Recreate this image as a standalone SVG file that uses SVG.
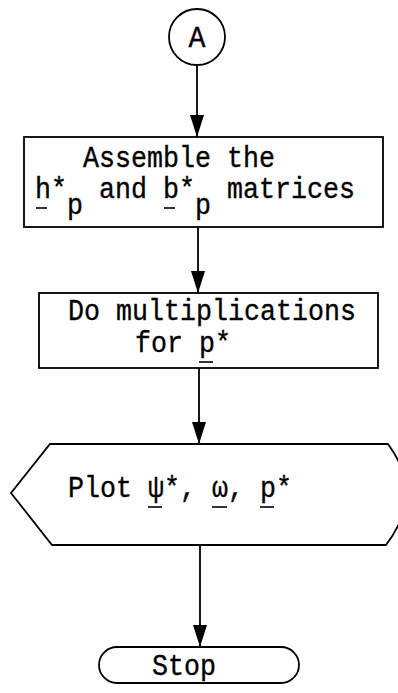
<svg xmlns="http://www.w3.org/2000/svg" width="398" height="693" viewBox="0 0 398 693">
<style>
.shape{fill:#fff;stroke:#000;stroke-width:1.8}
.edge{fill:none;stroke:#000;stroke-width:1.8}
.t{font-family:"Liberation Mono","Courier New",monospace;font-size:30px;fill:#000;stroke:#000;stroke-width:0.35}
.ul{stroke:#000;stroke-width:1.6}
</style>
<defs>
<marker id="arr" markerUnits="userSpaceOnUse" markerWidth="24" markerHeight="16" refX="22" refY="0" orient="auto" viewBox="-1 -8 24 16">
<path d="M0,-7 L22,0 L0,7 Z" fill="#000"/>
</marker>
</defs>
<g id="connectors">
<path class="edge" d="M197,65 V137" marker-end="url(#arr)"/>
<path class="edge" d="M198,227 V293" marker-end="url(#arr)"/>
<path class="edge" d="M199,368 V444" marker-end="url(#arr)"/>
<path class="edge" d="M200,545 V647" marker-end="url(#arr)"/>
</g>
<g id="nodeA">
<circle class="shape" cx="197" cy="37" r="28"/>
<text class="t" x="197" y="47" text-anchor="middle" textLength="17" lengthAdjust="spacingAndGlyphs">A</text>
</g>
<g id="assemble">
<rect class="shape" x="24" y="137" width="359" height="90"/>
<text class="t" x="83" y="167" textLength="192" lengthAdjust="spacingAndGlyphs">Assemble the</text>
<text class="t" x="35" y="198" textLength="32" lengthAdjust="spacingAndGlyphs">h*</text>
<text class="t" x="67" y="214" textLength="16" lengthAdjust="spacingAndGlyphs">p</text>
<text class="t" x="99" y="198" textLength="48" lengthAdjust="spacingAndGlyphs">and</text>
<text class="t" x="163" y="198" textLength="32" lengthAdjust="spacingAndGlyphs">b*</text>
<text class="t" x="195" y="214" textLength="16" lengthAdjust="spacingAndGlyphs">p</text>
<text class="t" x="227" y="198" textLength="128" lengthAdjust="spacingAndGlyphs">matrices</text>
<line class="ul" x1="36" y1="208" x2="47" y2="208"/>
<line class="ul" x1="164" y1="208" x2="175" y2="208"/>
</g>
<g id="multiply">
<rect class="shape" x="39" y="293" width="339" height="75"/>
<text class="t" x="68" y="320" textLength="288" lengthAdjust="spacingAndGlyphs">Do multiplications</text>
<text class="t" x="135" y="352" textLength="96" lengthAdjust="spacingAndGlyphs">for p*</text>
<line class="ul" x1="199" y1="362" x2="213" y2="362"/>
</g>
<g id="plot">
<path class="shape" d="M50,444 L388,444 Q425,494 386,545 L52,545 L11,493 Z"/>
<text class="t" x="68" y="497" textLength="224" lengthAdjust="spacingAndGlyphs">Plot ψ*, ω, p*</text>
<line class="ul" x1="148" y1="507" x2="162" y2="507"/>
<line class="ul" x1="212" y1="507" x2="227" y2="507"/>
<line class="ul" x1="260" y1="507" x2="274" y2="507"/>
</g>
<g id="stop">
<rect class="shape" x="99" y="647" width="200" height="36" rx="18" ry="18"/>
<text class="t" x="152" y="675" textLength="64" lengthAdjust="spacingAndGlyphs">Stop</text>
</g>
</svg>
